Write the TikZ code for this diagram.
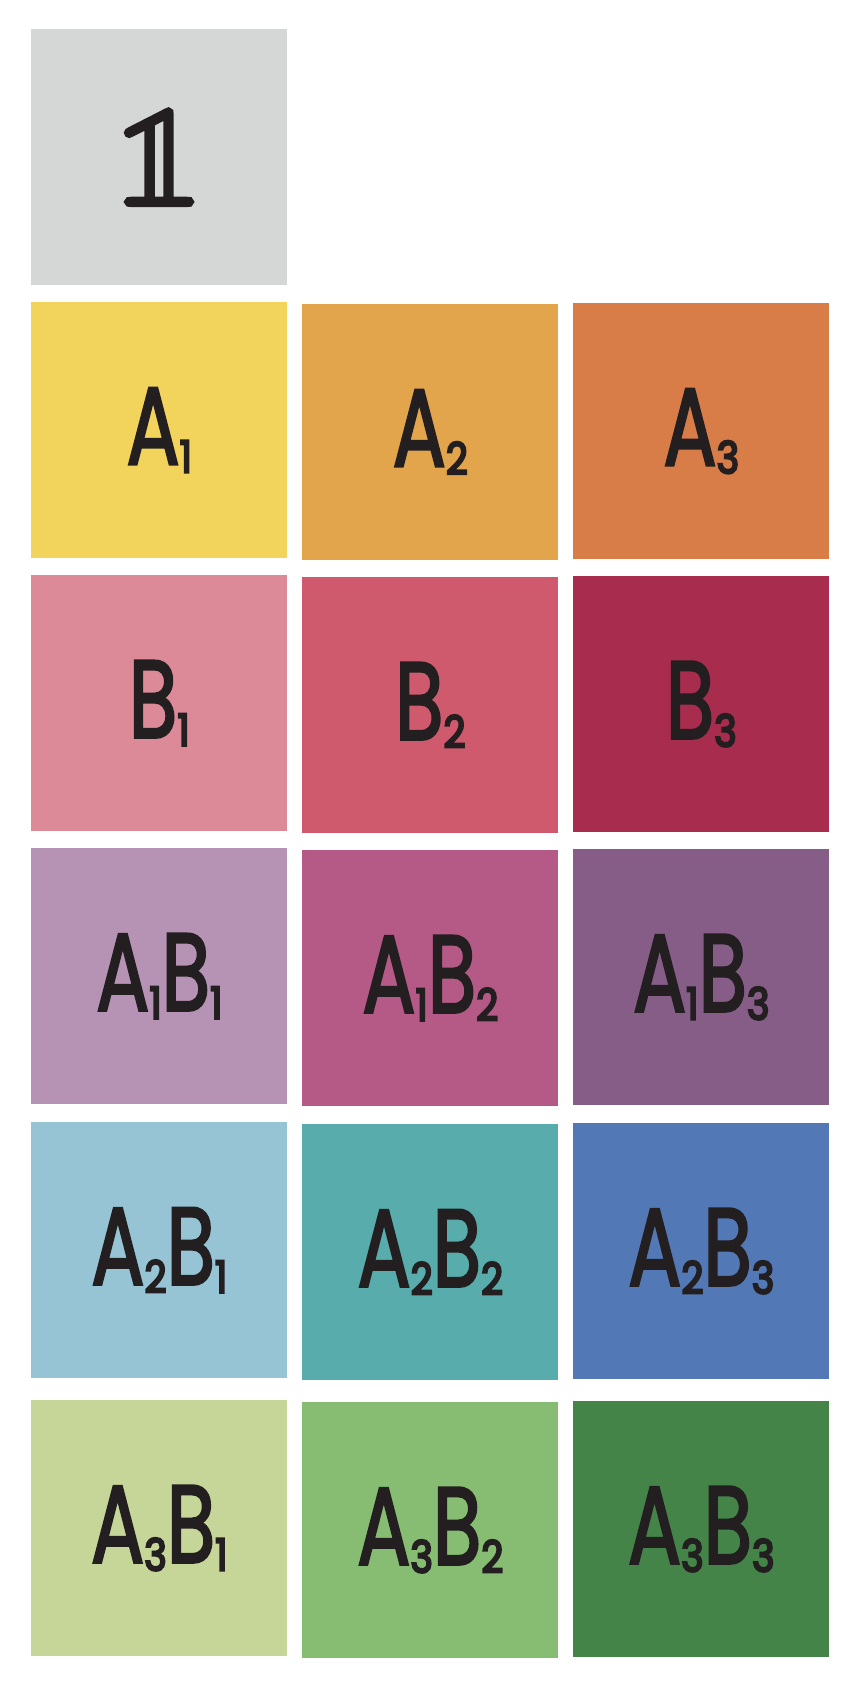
\documentclass[tikz,border=0pt]{standalone}
\usepackage{fontspec}
\newfontfamily\labfont[FakeBold=2.5]{Poppins}
\newfontfamily\subfont[FakeBold=5.5]{Poppins}
\newfontfamily\dsfont[FakeBold=3]{Latin Modern Math}
\definecolor{ink}{HTML}{231F20}
\definecolor{cU}{HTML}{D5D7D7}
\definecolor{cAa}{HTML}{F2D35B}
\definecolor{cAb}{HTML}{E2A54C}
\definecolor{cAc}{HTML}{D87D48}
\definecolor{cBa}{HTML}{DC8A97}
\definecolor{cBb}{HTML}{D05A6D}
\definecolor{cBc}{HTML}{A82C4D}
\definecolor{cAaBa}{HTML}{B692B4}
\definecolor{cAaBb}{HTML}{B55A86}
\definecolor{cAaBc}{HTML}{855D87}
\definecolor{cAbBa}{HTML}{96C4D5}
\definecolor{cAbBb}{HTML}{58ACAB}
\definecolor{cAbBc}{HTML}{5278B6}
\definecolor{cAcBa}{HTML}{C5D698}
\definecolor{cAcBb}{HTML}{86BD72}
\definecolor{cAcBc}{HTML}{448449}
\newcommand\sbd[1]{\raisebox{-8pt}{\scalebox{1.2}[1]{\fontsize{44}{44}\selectfont\subfont #1}}}
\newcommand\lbl[1]{\scalebox{0.72}[1]{\fontsize{110}{110}\selectfont\labfont #1}}
\begin{document}
\begin{tikzpicture}[x=1pt,y=-1pt]
\tikzset{tile/.style={minimum width=256pt, minimum height=256pt, inner sep=0pt, anchor=north west, text=ink}}
\useasboundingbox (0,0) rectangle (865,1687);
\fill[white] (0,0) rectangle (865,1687);
\node[tile, fill=cU] (u) at (31,29) {\fontsize{148}{148}\selectfont\dsfont 𝟙};
\node[tile, fill=cAa] (a1) at (31,302) {\lbl{A\sbd{1}}};
\node[tile, fill=cAb] (a2) at (302,304) {\lbl{A\sbd{2}}};
\node[tile, fill=cAc] (a3) at (573,303) {\lbl{A\sbd{3}}};
\node[tile, fill=cBa] (b1) at (31,575) {\lbl{B\sbd{1}}};
\node[tile, fill=cBb] (b2) at (302,577) {\lbl{B\sbd{2}}};
\node[tile, fill=cBc] (b3) at (573,576) {\lbl{B\sbd{3}}};
\node[tile, fill=cAaBa] (a1b1) at (31,848) {\lbl{A\sbd{1}B\sbd{1}}};
\node[tile, fill=cAaBb] (a1b2) at (302,850) {\lbl{A\sbd{1}B\sbd{2}}};
\node[tile, fill=cAaBc] (a1b3) at (573,849) {\lbl{A\sbd{1}B\sbd{3}}};
\node[tile, fill=cAbBa] (a2b1) at (31,1122) {\lbl{A\sbd{2}B\sbd{1}}};
\node[tile, fill=cAbBb] (a2b2) at (302,1124) {\lbl{A\sbd{2}B\sbd{2}}};
\node[tile, fill=cAbBc] (a2b3) at (573,1123) {\lbl{A\sbd{2}B\sbd{3}}};
\node[tile, fill=cAcBa] (a3b1) at (31,1400) {\lbl{A\sbd{3}B\sbd{1}}};
\node[tile, fill=cAcBb] (a3b2) at (302,1402) {\lbl{A\sbd{3}B\sbd{2}}};
\node[tile, fill=cAcBc] (a3b3) at (573,1401) {\lbl{A\sbd{3}B\sbd{3}}};
\end{tikzpicture}
\end{document}
